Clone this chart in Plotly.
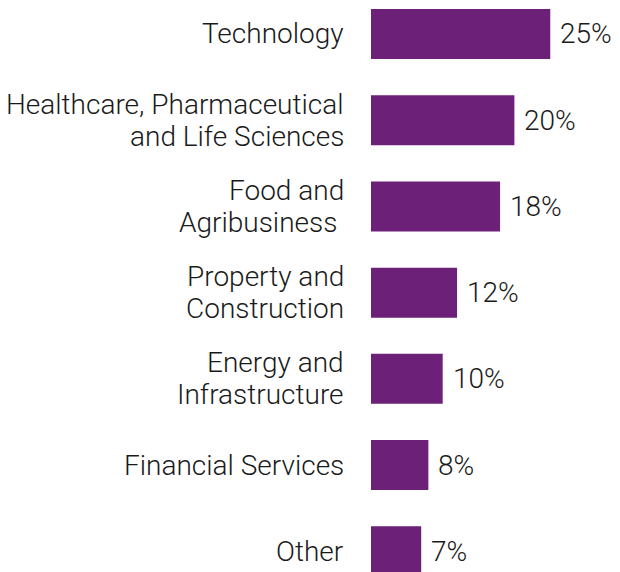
import plotly.graph_objects as go

# Sector breakdown (share of total, %)
sectors = [
    ["Technology"],
    ["Healthcare, Pharmaceutical", "and Life Sciences"],
    ["Food and", "Agribusiness "],
    ["Property and", "Construction"],
    ["Energy and", "Infrastructure"],
    ["Financial Services"],
    ["Other"],
]
shares = [25, 20, 18, 12, 10, 8, 7]

BAR_COLOR = "#6D2077"
TEXT_COLOR = "#1a1a1a"
FONT = dict(family="Roboto, Liberation Sans, sans-serif", size=28, color=TEXT_COLOR, weight=300)
LINE_STEP = 32  # px between label lines

fig = go.Figure(
    go.Bar(
        x=shares,
        y=list(range(len(sectors))),
        orientation="h",
        marker=dict(color=BAR_COLOR, line=dict(width=0)),
        width=0.58,
        hoverinfo="skip",
    )
)

for i, (lines, v) in enumerate(zip(sectors, shares)):
    # category label, one annotation per line, right-aligned left of the bars
    n = len(lines)
    for k, line in enumerate(lines):
        fig.add_annotation(
            x=0, y=i, text=line, showarrow=False,
            xanchor="right", yanchor="middle",
            xshift=-25, yshift=((n - 1) / 2 - k) * LINE_STEP,
            font=FONT,
        )
    # value label just past the end of the bar
    fig.add_annotation(
        x=v, y=i, text=f"{v}%", showarrow=False,
        xanchor="left", yanchor="middle", xshift=8,
        font=FONT,
    )

fig.update_layout(
    width=620, height=572,
    margin=dict(l=371, r=0, t=0, b=0),
    paper_bgcolor="white", plot_bgcolor="white",
    showlegend=False,
    font=FONT,
)
fig.update_xaxes(range=[0, 249 / 7.17], visible=False, fixedrange=True)
fig.update_yaxes(
    range=[6.24, -0.394],
    visible=False, showgrid=False, zeroline=False,
)

fig.write_html("out.html")
